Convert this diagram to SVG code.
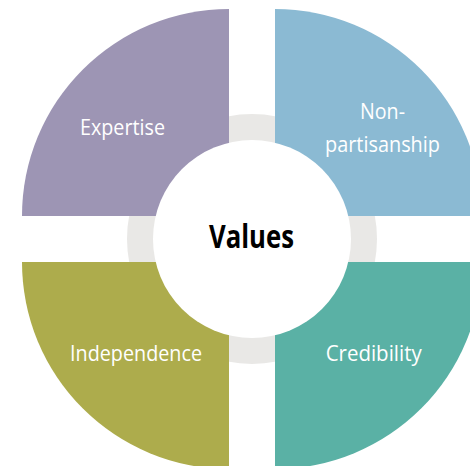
<svg xmlns="http://www.w3.org/2000/svg" width="470" height="466" viewBox="0 0 470 466">
<style>
.lbl{font-family:"Open Sans","Liberation Sans",sans-serif;font-size:22px;fill:#ffffff;text-anchor:middle;}
.ctr{font-family:"Open Sans","Liberation Sans",sans-serif;font-size:32px;font-weight:bold;fill:#000000;text-anchor:middle;}
</style>
<rect width="470" height="466" fill="#ffffff"/>
<circle id="ring" cx="252" cy="239" r="125" fill="#e9e8e6"/>
<g id="expertise">
<path d="M229,216 L22,216 A207,207 0 0 1 229,9 Z" fill="#9d95b4"/>
<text class="lbl" x="122.5" y="135" textLength="85" lengthAdjust="spacingAndGlyphs">Expertise</text>
</g>
<g id="nonpartisanship">
<path d="M275,216 L275,9 A207,207 0 0 1 482,216 Z" fill="#8bbad3"/>
<text class="lbl" x="382.5" y="119" textLength="45" lengthAdjust="spacingAndGlyphs">Non-</text>
<text class="lbl" x="382.5" y="152" textLength="115" lengthAdjust="spacingAndGlyphs">partisanship</text>
</g>
<g id="independence">
<path d="M229,262 L229,469 A207,207 0 0 1 22,262 Z" fill="#adac4c"/>
<text class="lbl" x="136" y="361" textLength="132" lengthAdjust="spacingAndGlyphs">Independence</text>
</g>
<g id="credibility">
<path d="M275,262 L482,262 A207,207 0 0 1 275,469 Z" fill="#5ab1a5"/>
<text class="lbl" x="373.7" y="361" textLength="96" lengthAdjust="spacingAndGlyphs">Credibility</text>
</g>
<g id="values">
<circle cx="252" cy="239" r="99" fill="#ffffff"/>
<text class="ctr" x="251.5" y="248" textLength="85" lengthAdjust="spacingAndGlyphs">Values</text>
</g>
<g id="connectors"/>
</svg>
